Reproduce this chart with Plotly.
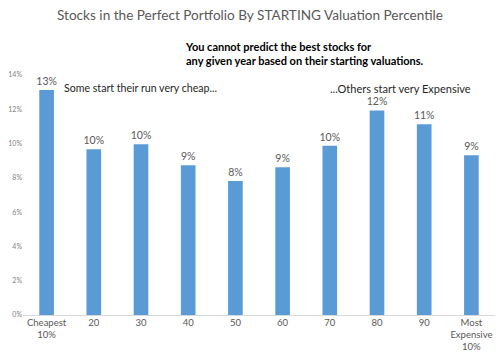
import plotly.graph_objects as go

categories = ["Cheapest<br>10%", "20", "30", "40", "50", "60", "70", "80", "90", "Most<br>Expensive<br>10%"]
values = [13.13, 9.67, 9.96, 8.74, 7.82, 8.62, 9.87, 11.93, 11.13, 9.32]
y_ticks = [0, 2, 4, 6, 8, 10, 12, 14]

FONT = "Lato"
fig = go.Figure()
fig.add_trace(go.Bar(
    x=list(range(len(categories))), y=values,
    marker=dict(color="#5B9BD5", line=dict(width=0)),
    text=[f"{v:.0f}%" for v in values],
    textposition="outside", cliponaxis=False, constraintext="none",
    textfont=dict(family=FONT, size=10.5, color="#595959"),
    width=0.31,
    hoverinfo="skip",
))

fig.update_layout(
    width=500, height=364,
    margin=dict(l=23, r=5, t=75, b=49),
    paper_bgcolor="white", plot_bgcolor="white",
    showlegend=False,
    title=dict(text="Stocks in the Perfect Portfolio By STARTING Valuation Percentile",
               x=0.5, xanchor="center", y=1 - 15/364, yanchor="middle",
               font=dict(family=FONT, size=13.6, color="#595959")),
    xaxis=dict(
        tickmode="array", tickvals=list(range(len(categories))), ticktext=categories,
        range=[-0.5, len(categories) - 0.5],
        showgrid=False, zeroline=False, showline=False, ticks="",
        tickfont=dict(family=FONT, size=9.5, color="#595959"),
    ),
    yaxis=dict(
        range=[0, 14], tickmode="array", tickvals=y_ticks,
        ticktext=[f"{t}%" for t in y_ticks],
        showgrid=False, zeroline=True, zerolinecolor="#D9D9D9", zerolinewidth=1,
        showline=False, ticks="",
        tickfont=dict(family=FONT, size=7, color="#7F7F7F"),
    ),
    annotations=[
        dict(text="<b>You cannot predict the best stocks for<br>any given year based on their starting valuations.</b>",
             xref="paper", yref="paper", x=(183 - 23) / 472, y=(315 - 53.5) / 240,
             xanchor="left", yanchor="middle", align="left", showarrow=False,
             font=dict(family=FONT, size=11, color="#000000")),
        dict(text="Some start their run very cheap...",
             xref="paper", yref="paper", x=(62 - 23) / 472, y=(315 - 88) / 240,
             xanchor="left", yanchor="middle", showarrow=False,
             font=dict(family=FONT, size=10.6, color="#262626")),
        dict(text="...Others start very Expensive",
             xref="paper", yref="paper", x=(328 - 23) / 472, y=(315 - 88) / 240,
             xanchor="left", yanchor="middle", showarrow=False,
             font=dict(family=FONT, size=11, color="#262626")),
    ],
)

fig.write_html("out.html", config={"displayModeBar": False},
               post_script="document.body.style.margin='0';")
